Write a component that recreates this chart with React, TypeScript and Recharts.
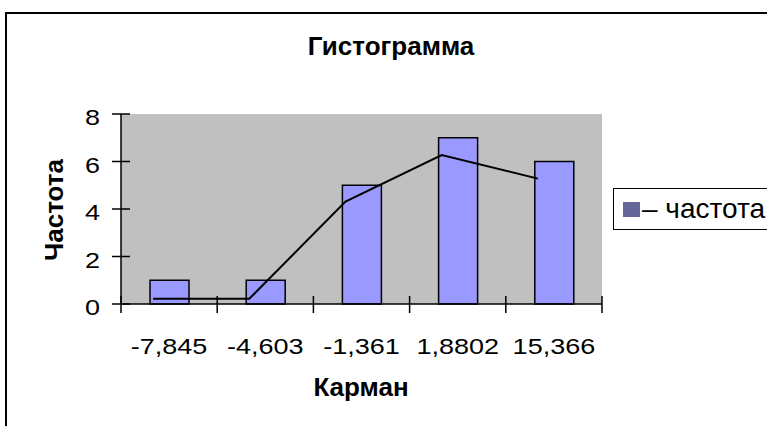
import React from 'react'
import {
  ComposedChart, Bar, Line, XAxis, YAxis, CartesianGrid, Legend,
} from 'recharts'

const bins = ['-7,845', '-4,603', '-1,361', '1,8802', '15,366']
const counts = [1, 1, 5, 7, 6]
const trend = [0.22, 0.22, 4.31, 6.27, 5.28]
const yTicks = [0, 2, 4, 6, 8]

const W = 767
const H = 426
const PLOT_LEFT = 121
const PLOT_RIGHT = 602
const PLOT_TOP = 114
const PLOT_BOTTOM = 304
const BAND = (PLOT_RIGHT - PLOT_LEFT) / bins.length
const FONT = '"Liberation Sans", Arial, sans-serif'
const STRETCH = 1.2

const data = bins.map((bin, i) => ({ bin, count: counts[i], trend: trend[i] }))

function XTick({ x, payload, index }: any) {
  const i = payload?.index ?? index
  return (
    <g>
      <line x1={x - BAND / 2} x2={x - BAND / 2} y1={PLOT_BOTTOM - 8} y2={PLOT_BOTTOM + 9} stroke="#000" strokeWidth={1.5} />
      {i === bins.length - 1 && (
        <line x1={x + BAND / 2} x2={x + BAND / 2} y1={PLOT_BOTTOM - 8} y2={PLOT_BOTTOM + 9} stroke="#000" strokeWidth={1.5} />
      )}
      <text
        transform={`translate(${x},354) scale(${STRETCH},1)`}
        textAnchor="middle"
        fontFamily={FONT}
        fontSize={22.5}
        fill="#000"
      >
        {payload.value}
      </text>
    </g>
  )
}

function YTick({ y, payload }: any) {
  return (
    <g>
      <line x1={PLOT_LEFT - 9} x2={PLOT_LEFT + 9} y1={y} y2={y} stroke="#000" strokeWidth={1.5} />
      <text
        transform={`translate(100,${y + 11}) scale(${STRETCH},1)`}
        textAnchor="end"
        fontFamily={FONT}
        fontSize={22.5}
        fill="#000"
      >
        {payload.value}
      </text>
    </g>
  )
}

function LegendBox() {
  return (
    <div
      style={{
        width: 175, height: 42, boxSizing: 'border-box', border: '1.5px solid #000',
        background: '#fff', display: 'flex', alignItems: 'center', fontFamily: FONT,
      }}
    >
      <span style={{ width: 17, height: 15, background: '#666699', marginLeft: 9, marginRight: 2 }} />
      <span style={{ fontSize: 28, lineHeight: '28px', color: '#000', whiteSpace: 'nowrap' }}>– частота</span>
    </div>
  )
}

export default function App() {
  return (
    <div style={{ position: 'absolute', left: 0, top: 0, width: W, height: H, background: '#fff', overflow: 'hidden' }}>
      <div style={{ position: 'absolute', left: 0, top: 0 }}>
        <ComposedChart
          width={W}
          height={H}
          data={data}
          margin={{ top: PLOT_TOP, right: W - PLOT_RIGHT, bottom: H - PLOT_BOTTOM - 60, left: PLOT_LEFT - 60 }}
        >
          <CartesianGrid horizontal={false} vertical={false} fill="#C0C0C0" fillOpacity={1} />
          <XAxis
            dataKey="bin"
            height={60}
            axisLine={{ stroke: '#000', strokeWidth: 1.5 }}
            tickLine={false}
            tick={<XTick />}
            interval={0}
          />
          <XAxis xAxisId="top" dataKey="bin" orientation="top" height={0} tick={false} tickLine={false} axisLine={{ stroke: '#808080', strokeWidth: 1.5 }} />
          <XAxis xAxisId="trend" dataKey="bin" hide padding={{ left: -16, right: 16 }} />
          <YAxis
            domain={[0, 8]}
            ticks={yTicks}
            width={60}
            axisLine={{ stroke: '#000', strokeWidth: 1.5 }}
            tickLine={false}
            tick={<YTick />}
            interval={0}
          />
          <YAxis yAxisId="right" orientation="right" domain={[0, 8]} width={0} tick={false} tickLine={false} axisLine={{ stroke: '#808080', strokeWidth: 1.5 }} />
          <Bar dataKey="count" name="частота" barSize={39} fill="#9999FF" stroke="#000" strokeWidth={1.5} isAnimationActive={false} />
          <Line
            xAxisId="trend"
            dataKey="trend"
            stroke="#000"
            strokeWidth={2}
            dot={false}
            legendType="none"
            isAnimationActive={false}
          />
          <Legend
            layout="horizontal"
            verticalAlign="middle"
            align="center"
            wrapperStyle={{ left: 613, top: 188, width: 175 }}
            content={<LegendBox />}
          />
        </ComposedChart>
      </div>
      <svg width={W} height={H} style={{ position: 'absolute', left: 0, top: 0, pointerEvents: 'none' }}>
        <rect x={6} y={13} width={W} height={H} fill="none" stroke="#000" strokeWidth={2} />
        <text x={391} y={55} textAnchor="middle" fontFamily={FONT} fontWeight="bold" fontSize={26}>Гистограмма</text>
        <text x={361} y={396} textAnchor="middle" fontFamily={FONT} fontWeight="bold" fontSize={26}>Карман</text>
        <text transform="translate(63,210) rotate(-90)" textAnchor="middle" fontFamily={FONT} fontWeight="bold" fontSize={26}>Частота</text>
      </svg>
    </div>
  )
}
